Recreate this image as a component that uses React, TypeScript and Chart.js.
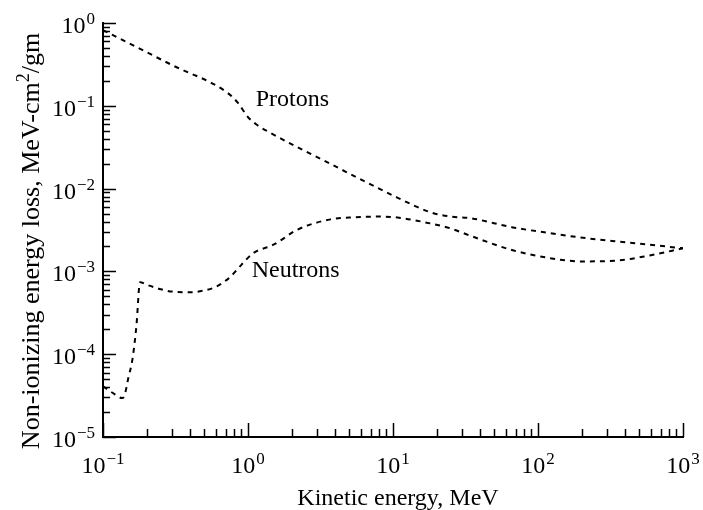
import React, { useEffect, useRef } from "react";
import { Chart, registerables } from "chart.js";

Chart.register(...registerables);

// ---- data ----
const PROTON_ENERGY = [0.1, 0.3, 0.72, 0.85, 1.0, 1.15, 1.4, 3.68, 10.7, 18, 25, 34, 67, 121, 186, 350, 592, 1000];
const PROTON_NIEL = [0.82, 0.31, 0.144, 0.109, 0.073, 0.059, 0.048, 0.02, 0.0078, 0.0052, 0.0046, 0.0044, 0.0034, 0.0029, 0.0026, 0.0023, 0.0021, 0.0019];

const NEUTRON_ENERGY = [0.1, 0.12, 0.135, 0.14, 0.15, 0.16, 0.17, 0.18, 0.2, 0.25, 0.3, 0.4, 0.5, 0.6, 0.75, 0.9, 1.08, 1.5, 2.2, 3.7, 5.5, 8, 11, 18, 25, 34, 67, 120, 200, 350, 600, 1000];
const NEUTRON_NIEL = [4.1e-5, 3.3e-5, 2.95e-5, 3.1e-5, 5.3e-5, 8.9e-5, 2.2e-4, 7.4e-4, 6.9e-4, 6.1e-4, 5.7e-4, 5.6e-4, 5.9e-4, 6.5e-4, 8.5e-4, 1.2e-3, 1.65e-3, 2.1e-3, 3.2e-3, 4.25e-3, 4.5e-3, 4.6e-3, 4.45e-3, 3.8e-3, 3.3e-3, 2.7e-3, 1.8e-3, 1.45e-3, 1.32e-3, 1.35e-3, 1.57e-3, 1.9e-3];

const X_TICK_EXPONENTS = [-1, 0, 1, 2, 3];
const Y_TICK_EXPONENTS = [0, -1, -2, -3, -4, -5];

const X_TITLE = "Kinetic energy, MeV";
const Y_TITLE_PARTS = ["Non-ionizing energy loss, MeV-cm", "2", "/gm"];
const CURVE_LABELS = ["Protons", "Neutrons"];
const LABEL_ANCHORS = [
  { x: 1.13, y: 0.1 },
  { x: 1.06, y: 0.00085 },
];

const FONT_FAMILY = '"Liberation Serif", "Times New Roman", serif';

function expText(e: number) {
  return e < 0 ? "\u2212" + String(-e) : String(e);
}

function drawPow(ctx: CanvasRenderingContext2D, e: number, x: number, baseline: number, align: "center" | "right") {
  ctx.font = `24px ${FONT_FAMILY}`;
  const baseW = ctx.measureText("10").width;
  ctx.font = `17px ${FONT_FAMILY}`;
  const sup = expText(e);
  const supW = ctx.measureText(sup).width;
  const total = baseW + supW + 1;
  const left = align === "center" ? x - total / 2 : x - total;
  ctx.textAlign = "left";
  ctx.textBaseline = "alphabetic";
  ctx.font = `24px ${FONT_FAMILY}`;
  ctx.fillText("10", left, baseline);
  ctx.font = `17px ${FONT_FAMILY}`;
  ctx.fillText(sup, left + baseW + 1, baseline - 9);
}

const decorPlugin = {
  id: "decor",
  afterDraw(chart: any) {
    const ctx: CanvasRenderingContext2D = chart.ctx;
    const xs = chart.scales.x;
    const ys = chart.scales.y;
    const a = chart.chartArea;
    ctx.save();
    ctx.strokeStyle = "#000";
    ctx.fillStyle = "#000";
    ctx.lineWidth = 1.5;
    // inward tick marks
    ctx.beginPath();
    for (let e = X_TICK_EXPONENTS[0]; e < X_TICK_EXPONENTS[X_TICK_EXPONENTS.length - 1] + 1; e++) {
      for (let m = 1; m <= 9; m++) {
        const v = m * Math.pow(10, e);
        if (v > xs.max * 1.0001) break;
        const px = Math.round(xs.getPixelForValue(v)) + 0.5;
        const len = m === 1 ? 14 : 8;
        ctx.moveTo(px, a.bottom);
        ctx.lineTo(px, a.bottom - len);
      }
    }
    for (let e = -5; e <= 0; e++) {
      for (let m = 1; m <= 9; m++) {
        const v = m * Math.pow(10, e);
        if (v > ys.max * 1.0001) break;
        const py = Math.round(ys.getPixelForValue(v)) + 0.5;
        const len = m === 1 ? 13 : 7;
        ctx.moveTo(a.left, py);
        ctx.lineTo(a.left + len, py);
      }
    }
    ctx.stroke();

    // tick labels
    X_TICK_EXPONENTS.forEach((e) => {
      drawPow(ctx, e, xs.getPixelForValue(Math.pow(10, e)), a.bottom + 36, "center");
    });
    Y_TICK_EXPONENTS.forEach((e) => {
      drawPow(ctx, e, a.left - 8, ys.getPixelForValue(Math.pow(10, e)) + 10, "right");
    });

    // x title
    ctx.font = `24px ${FONT_FAMILY}`;
    ctx.textAlign = "center";
    ctx.textBaseline = "alphabetic";
    ctx.fillText(X_TITLE, (a.left + a.right) / 2 + 5, 505);

    // y title (rotated, with superscript)
    ctx.save();
    ctx.translate(39, 241);
    ctx.rotate(-Math.PI / 2);
    ctx.textAlign = "left";
    ctx.font = `26px ${FONT_FAMILY}`;
    const w0 = ctx.measureText(Y_TITLE_PARTS[0]).width;
    const w2 = ctx.measureText(Y_TITLE_PARTS[2]).width;
    ctx.font = `18px ${FONT_FAMILY}`;
    const w1 = ctx.measureText(Y_TITLE_PARTS[1]).width;
    const total = w0 + w1 + w2;
    let u = -total / 2;
    ctx.font = `26px ${FONT_FAMILY}`;
    ctx.fillText(Y_TITLE_PARTS[0], u, 0);
    u += w0;
    ctx.font = `18px ${FONT_FAMILY}`;
    ctx.fillText(Y_TITLE_PARTS[1], u, -10);
    u += w1;
    ctx.font = `26px ${FONT_FAMILY}`;
    ctx.fillText(Y_TITLE_PARTS[2], u, 0);
    ctx.restore();

    // curve labels
    ctx.font = `24px ${FONT_FAMILY}`;
    ctx.textAlign = "left";
    CURVE_LABELS.forEach((t, i) => {
      const p = LABEL_ANCHORS[i];
      ctx.fillText(t, xs.getPixelForValue(p.x), ys.getPixelForValue(p.y));
    });
    ctx.restore();
  },
};

export default function App() {
  const ref = useRef<HTMLCanvasElement | null>(null);
  useEffect(() => {
    if (!ref.current) return;
    const mk = (xs: number[], ys: number[]) => xs.map((x, i) => ({ x, y: ys[i] }));
    const common = {
      borderColor: "#000",
      borderWidth: 2,
      borderDash: [5, 5],
      pointRadius: 0,
      fill: false,
      cubicInterpolationMode: "monotone" as const,
    };
    const chart = new Chart(ref.current, {
      type: "line",
      data: {
        datasets: [
          { label: "Protons", data: mk(PROTON_ENERGY, PROTON_NIEL), ...common },
          { label: "Neutrons", data: mk(NEUTRON_ENERGY, NEUTRON_NIEL), ...common },
        ],
      },
      options: {
        responsive: false,
        animation: false,
        devicePixelRatio: 1,
        layout: { padding: { left: 103, right: 20, top: 23, bottom: 73 } },
        plugins: { legend: { display: false }, tooltip: { enabled: false }, title: { display: false } },
        scales: {
          x: {
            type: "logarithmic",
            position: "bottom",
            min: 0.1,
            max: 1000,
            ticks: { display: false },
            grid: { display: false, drawTicks: false, tickLength: 0 },
            border: { display: true, color: "#000", width: 2 },
            title: { display: false },
          },
          y: {
            type: "logarithmic",
            position: "left",
            min: 1e-5,
            max: 1,
            ticks: { display: false },
            grid: { display: false, drawTicks: false, tickLength: 0 },
            border: { display: true, color: "#000", width: 2 },
            title: { display: false },
          },
        },
      },
      plugins: [decorPlugin],
    });
    return () => chart.destroy();
  }, []);
  return (
    <div style={{ position: "fixed", left: 0, top: 0, width: 703, height: 510, background: "#fff" }}>
      <canvas ref={ref} width={703} height={510} style={{ display: "block", width: 703, height: 510 }} />
    </div>
  );
}
